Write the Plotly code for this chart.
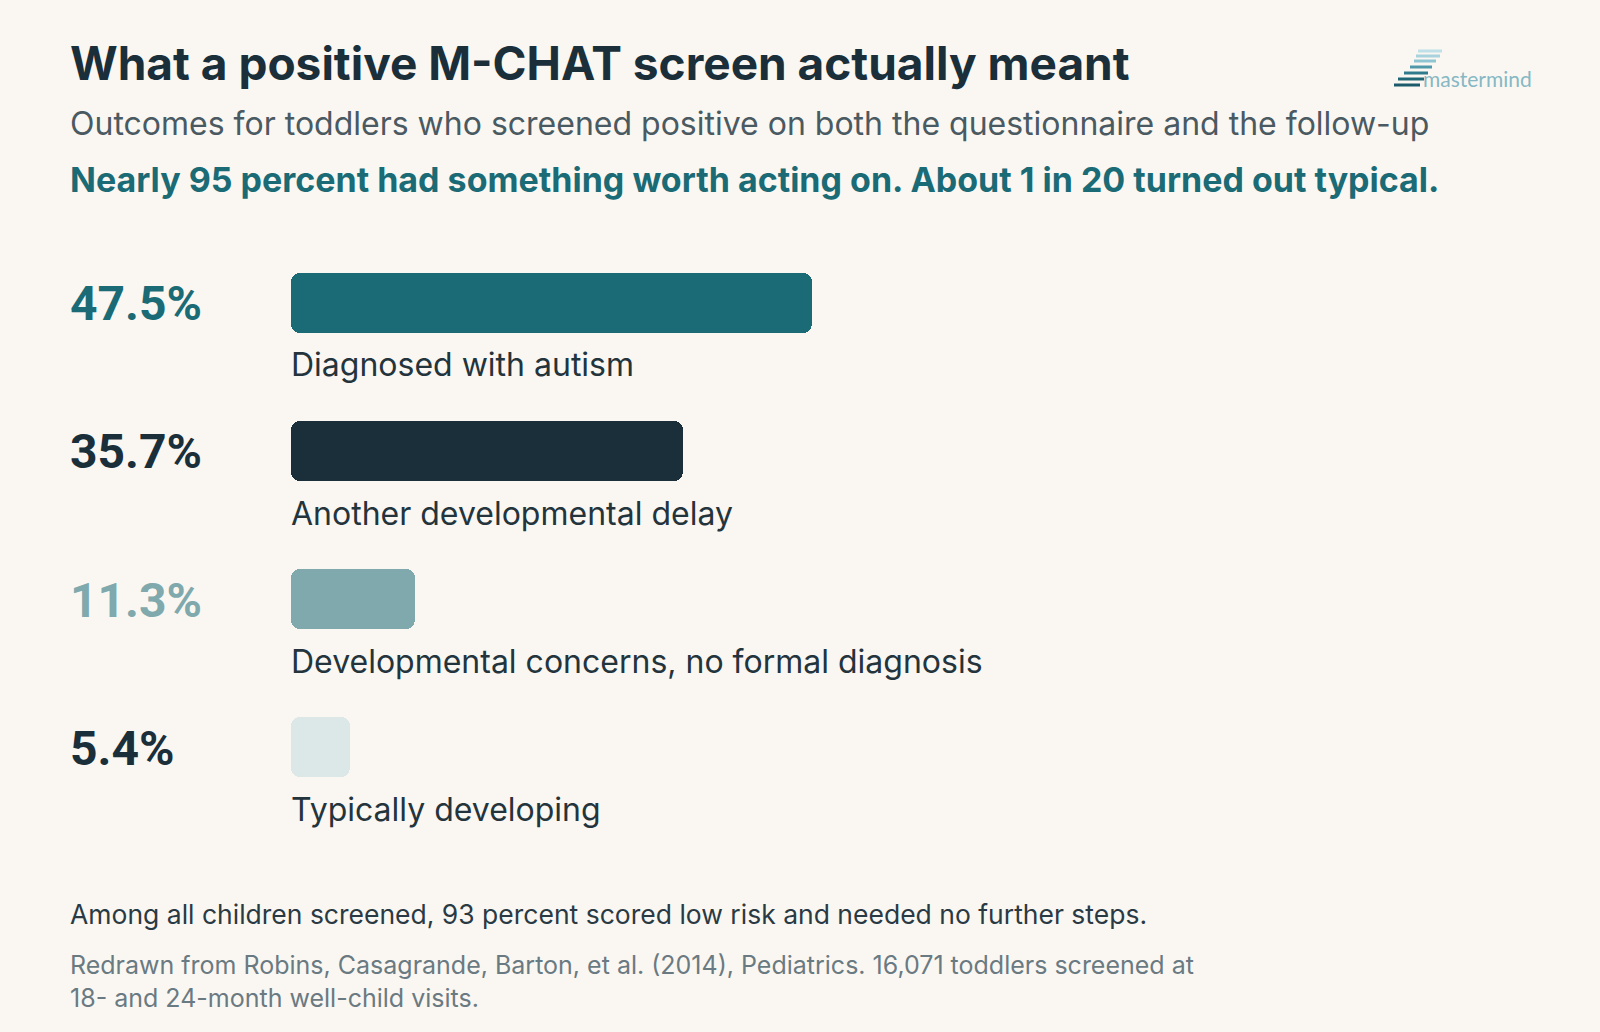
import plotly.graph_objects as go

# ---- data ----
categories = ["Diagnosed with autism", "Another developmental delay",
              "Developmental concerns, no formal diagnosis", "Typically developing"]
values = [47.5, 35.7, 11.3, 5.4]
bar_colors = ["#1a6b75", "#1b2f3a", "#7fa9ad", "#dce8e8"]
pct_colors = ["#1a6b75", "#1b2f3a", "#7fa9ad", "#1b2f3a"]

title = "What a positive M-CHAT screen actually meant"
subtitle = "Outcomes for toddlers who screened positive on both the questionnaire and the follow-up"
highlight = "Nearly 95 percent had something worth acting on. About 1 in 20 turned out typical."
note = "Among all children screened, 93 percent scored low risk and needed no further steps."
source = ("Redrawn from Robins, Casagrande, Barton, et al. (2014), Pediatrics. 16,071 toddlers screened at<br>"
          "18- and 24-month well-child visits.")

W, H = 1600, 1032
BG = "#faf7f2"
TXT = "Inter"

def py(p):  # pixel y -> paper
    return 1 - p / H

def px(p):
    return p / W

ypos = list(range(len(categories)))

fig = go.Figure()
# bars drawn as two overlapping pieces so that both ends get rounded corners
fig.add_trace(go.Bar(
    x=[-v * 0.7 for v in values], base=[v * 0.7 for v in values], y=ypos, orientation="h",
    marker=dict(color=bar_colors, cornerradius=9, line=dict(width=0), opacity=1),
    width=0.405, hoverinfo="skip", showlegend=False,
))
fig.add_trace(go.Bar(
    x=[v * 0.7 for v in values], base=[v * 0.3 for v in values], y=ypos, orientation="h",
    marker=dict(color=bar_colors, cornerradius=9, line=dict(width=0), opacity=1),
    width=0.405, hoverinfo="skip", showlegend=False,
))

annotations = []
for i, (c, v) in enumerate(zip(categories, values)):
    annotations.append(dict(
        x=px(68), xref="paper", y=i, yref="y", xanchor="left", yanchor="middle",
        text=f"<b>{v:.1f}%</b>", showarrow=False,
        font=dict(family="Roboto", size=48, color=pct_colors[i]), yshift=-1))
    annotations.append(dict(
        x=0, xref="x", y=i, yref="y", xanchor="left", yanchor="middle",
        text=c, showarrow=False, yshift=-62, xshift=-2,
        font=dict(family=TXT, size=32, color="#24343d")))

annotations += [
    dict(x=px(68), y=py(63), xref="paper", yref="paper", xanchor="left", yanchor="middle",
         text=f"<b>{title}</b>", showarrow=False,
         font=dict(family=TXT, size=46, color="#1b2f3a")),
    dict(x=px(68), y=py(124), xref="paper", yref="paper", xanchor="left", yanchor="middle",
         text=subtitle, showarrow=False,
         font=dict(family=TXT, size=32, color="#4a5a62")),
    dict(x=px(68), y=py(180), xref="paper", yref="paper", xanchor="left", yanchor="middle",
         text=f"<b>{highlight}</b>", showarrow=False,
         font=dict(family=TXT, size=34, color="#1a6b75")),
    dict(x=px(68), y=py(914), xref="paper", yref="paper", xanchor="left", yanchor="middle",
         text=note, showarrow=False,
         font=dict(family=TXT, size=26.5, color="#2a3a44")),
    dict(x=px(68), y=py(981), xref="paper", yref="paper", xanchor="left", yanchor="middle",
         text=source, showarrow=False, align="left",
         font=dict(family=TXT, size=25, color="#6a7a82")),
    dict(x=px(1421), y=py(78), xref="paper", yref="paper", xanchor="left", yanchor="middle",
         text="mastermind", showarrow=False,
         font=dict(family="Lato", size=21, color="#86b8c4")),
]

# small stair logo
shapes = []
stairs = [(1418, 1442, 51, "#bfe0e8"), (1416, 1440, 56, "#a8d3de"), (1414, 1436, 61, "#8fc4d2"),
          (1410, 1432, 67, "#4e98aa"), (1404, 1428, 73, "#2f7a8c"), (1398, 1424, 79, "#1f6677"),
          (1394, 1420, 85, "#1a5a6a")]
for x0, x1, yy, col in stairs:
    shapes.append(dict(type="line", xref="paper", yref="paper",
                       x0=px(x0), x1=px(x1), y0=py(yy), y1=py(yy),
                       line=dict(color=col, width=3)))

fig.update_layout(
    width=W, height=H,
    paper_bgcolor=BG, plot_bgcolor=BG,
    margin=dict(l=0, r=0, t=0, b=0),
    xaxis=dict(domain=[px(291), px(1388)], range=[0, 100], visible=False, fixedrange=True),
    yaxis=dict(domain=[py(821), py(229)], range=[3.5, -0.5], visible=False, fixedrange=True),
    annotations=annotations, shapes=shapes,
    barmode="overlay", bargap=0,
)

fig.write_html("out.html", config={"displayModeBar": False},
               post_script="document.body.style.margin='0';document.body.style.background='#faf7f2';")
